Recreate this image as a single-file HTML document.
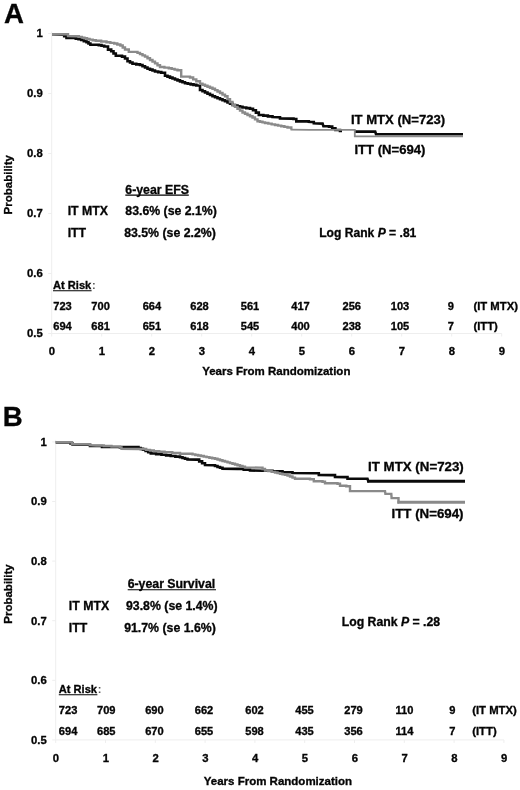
<!DOCTYPE html>
<html><head><meta charset="utf-8"><title>Figure</title>
<style>
html,body{margin:0;padding:0;background:#fff;}
svg{display:block;filter:blur(0.4px);font-family:"Liberation Sans",Arial,sans-serif;font-weight:bold;fill:#050505;}
text{stroke:#050505;stroke-width:0.32px;}
.t{font-size:11.3px;}
.l{font-size:11.5px;}
.m{font-size:12.3px;}
.c{font-size:13.1px;}
.cb{font-size:13.3px;}
.r{font-size:11.1px;}
.p{font-size:27.6px;}
.g{font-size:12.1px;}
.kb{fill:none;stroke:#0a0a0a;stroke-width:2.6;stroke-linejoin:miter;}
.kg{fill:none;stroke:#8a8a8a;stroke-width:2.4;stroke-linejoin:miter;}
</style></head><body>
<svg width="520" height="790" viewBox="0 0 520 790">
<rect width="520" height="790" fill="#fff"/>
<path d="M51.7,31.5 V333.5 H501.7" fill="none" stroke="#eeeeee" stroke-width="1"/>
<path d="M48.2,33.5H51.7M48.2,93.5H51.7M48.2,153.5H51.7M48.2,213.5H51.7M48.2,273.5H51.7M48.2,333.5H51.7M51.7,333.5v3M101.7,333.5v3M151.7,333.5v3M201.7,333.5v3M251.7,333.5v3M301.7,333.5v3M351.7,333.5v3M401.7,333.5v3M451.7,333.5v3M501.7,333.5v3" fill="none" stroke="#eeeeee" stroke-width="1"/>
<text x="42.7" y="37.4" text-anchor="end" class="t">1</text>
<text x="42.7" y="97.4" text-anchor="end" class="t">0.9</text>
<text x="42.7" y="157.4" text-anchor="end" class="t">0.8</text>
<text x="42.7" y="217.4" text-anchor="end" class="t">0.7</text>
<text x="42.7" y="277.4" text-anchor="end" class="t">0.6</text>
<text x="42.7" y="337.4" text-anchor="end" class="t">0.5</text>
<text x="51.9" y="355.4" text-anchor="middle" class="t">0</text>
<text x="101.9" y="355.4" text-anchor="middle" class="t">1</text>
<text x="151.9" y="355.4" text-anchor="middle" class="t">2</text>
<text x="201.9" y="355.4" text-anchor="middle" class="t">3</text>
<text x="251.9" y="355.4" text-anchor="middle" class="t">4</text>
<text x="301.9" y="355.4" text-anchor="middle" class="t">5</text>
<text x="351.9" y="355.4" text-anchor="middle" class="t">6</text>
<text x="401.9" y="355.4" text-anchor="middle" class="t">7</text>
<text x="451.9" y="355.4" text-anchor="middle" class="t">8</text>
<text x="501.9" y="355.4" text-anchor="middle" class="t">9</text>
<text transform="translate(11.6,184.7) rotate(-90)" text-anchor="middle" class="l">Probability</text>
<text x="276.3" y="374.7" text-anchor="middle" class="l">Years From Randomization</text>
<polyline points="52.00,34.30 61.90,34.60 64.20,34.60 64.20,36.30 66.50,36.30 66.50,38.00 75.80,38.00 75.80,38.60 78.50,38.60 78.50,39.30 81.20,39.30 81.20,40.00 83.85,40.00 83.85,41.10 86.50,41.10 86.50,42.20 88.45,42.20 88.45,43.45 90.40,43.45 90.40,44.70 98.80,44.70 98.80,45.10 101.50,45.10 101.50,45.80 104.20,45.80 104.20,46.50 108.00,46.50 108.00,49.60 111.20,49.60 111.20,51.20 113.50,51.20 113.50,53.50 115.80,53.50 115.80,55.80 122.00,55.80 122.00,56.60 125.00,56.60 125.00,58.50 127.50,58.50 127.50,61.20 130.00,61.20 130.00,62.45 132.50,62.45 132.50,63.70 136.25,63.70 136.25,64.35 140.00,64.35 140.00,65.00 142.50,65.00 142.50,66.23 145.00,66.23 145.00,67.47 147.50,67.47 147.50,68.70 150.00,68.70 150.00,69.63 152.50,69.63 152.50,70.57 155.00,70.57 155.00,71.50 158.15,71.50 158.15,72.15 161.30,72.15 161.30,72.80 165.00,72.80 165.00,75.70 167.50,75.70 167.50,76.65 170.00,76.65 170.00,77.60 172.50,77.60 172.50,78.55 175.00,78.55 175.00,79.50 177.50,79.50 177.50,80.42 180.00,80.42 180.00,81.35 182.50,81.35 182.50,82.28 185.00,82.28 185.00,83.20 187.82,83.20 187.82,83.78 190.65,83.78 190.65,84.35 193.48,84.35 193.48,84.92 196.30,84.92 196.30,85.50 200.00,85.50 200.00,90.00 202.50,90.00 202.50,91.24 205.00,91.24 205.00,92.48 207.50,92.48 207.50,93.72 210.00,93.72 210.00,94.96 212.50,94.96 212.50,96.20 215.00,96.20 215.00,97.20 217.50,97.20 217.50,98.20 220.00,98.20 220.00,99.20 222.50,99.20 222.50,100.20 225.00,100.20 225.00,101.20 227.50,101.20 227.50,102.47 230.00,102.47 230.00,103.73 232.50,103.73 232.50,105.00 235.00,105.00 235.00,105.62 237.50,105.62 237.50,106.25 240.00,106.25 240.00,106.88 242.50,106.88 242.50,107.50 246.25,107.50 246.25,108.15 250.00,108.15 250.00,108.80 253.00,108.80 253.00,110.20 255.90,110.20 255.90,112.60 258.80,112.60 258.80,115.00 263.37,115.00 263.37,115.67 267.93,115.67 267.93,116.33 272.50,116.33 272.50,117.00 278.00,117.20 280.00,117.20 280.00,118.40 291.50,118.60 293.50,118.60 293.50,119.00 296.30,119.00 296.30,121.40 308.80,121.40 308.80,121.80 311.00,122.00 313.80,122.00 313.80,123.30 322.60,123.60 323.40,126.20 329.00,126.20 329.00,126.60 332.20,126.60 332.20,128.30 335.40,128.30 335.40,130.00 340.00,130.00 340.00,131.00 342.00,131.00" class="kb"/>
<polyline points="354.20,131.60 375.20,131.60 376.00,134.20 463.00,134.20" class="kb"/>
<polyline points="52.00,34.20 64.20,34.20 68.00,34.20 68.00,36.00 75.80,36.20 78.85,36.20 78.85,36.90 81.90,36.90 81.90,37.60 84.47,37.60 84.47,38.27 87.03,38.27 87.03,38.93 89.60,38.93 89.60,39.60 92.70,39.60 92.70,40.20 95.80,40.20 95.80,40.80 101.15,40.80 101.15,41.50 106.50,41.50 106.50,42.20 110.35,42.20 110.35,42.85 114.20,42.85 114.20,43.50 117.30,43.50 117.30,44.50 120.40,44.50 120.40,45.50 122.70,45.50 122.70,47.50 125.00,47.50 125.00,49.50 128.80,49.50 128.80,51.90 137.50,51.90 137.50,52.90 140.00,52.90 140.00,54.13 142.50,54.13 142.50,55.37 145.00,55.37 145.00,56.60 147.50,56.60 147.50,58.27 150.00,58.27 150.00,59.93 152.50,59.93 152.50,61.60 155.00,61.60 155.00,63.40 157.50,63.40 157.50,65.20 160.00,65.20 160.00,67.00 164.40,67.00 164.40,67.60 168.80,67.60 168.80,68.20 171.70,68.20 171.70,68.90 174.60,68.90 174.60,69.60 177.50,69.60 177.50,70.30 181.20,70.30 181.20,76.60 190.00,76.60 190.00,77.50 193.15,77.50 193.15,79.40 196.30,79.40 196.30,81.30 200.00,81.30 200.00,83.70 202.50,83.70 202.50,84.70 205.00,84.70 205.00,85.70 207.50,85.70 207.50,86.70 210.00,86.70 210.00,87.70 212.50,87.70 212.50,88.70 215.00,88.70 215.00,90.13 217.50,90.13 217.50,91.57 220.00,91.57 220.00,93.00 222.50,93.00 222.50,94.60 225.00,94.60 225.00,96.20 227.50,96.20 227.50,99.13 230.00,99.13 230.00,102.07 232.50,102.07 232.50,105.00 235.00,105.00 235.00,106.88 237.50,106.88 237.50,108.75 240.00,108.75 240.00,110.62 242.50,110.62 242.50,112.50 245.00,112.50 245.00,113.75 247.50,113.75 247.50,115.00 250.00,115.00 250.00,116.25 252.50,116.25 252.50,117.50 255.00,117.50 255.00,119.35 257.50,119.35 257.50,121.20 260.00,121.20 260.00,121.80 262.50,121.80 262.50,122.40 265.00,122.40 265.00,123.00 268.33,123.00 268.33,123.67 271.67,123.67 271.67,124.33 275.00,124.33 275.00,125.00 278.12,125.00 278.12,125.62 281.25,125.62 281.25,126.25 284.38,126.25 284.38,126.88 287.50,126.88 287.50,127.50 291.30,127.50 291.30,129.60" class="kg"/>
<polyline points="290.50,129.70 310.00,129.90 354.80,129.90 354.80,130.40 354.80,136.30 463.00,136.30" class="kg" style="stroke-width:1.8"/>
<text x="350.9" y="124.3" class="c">IT MTX (N=723)</text>
<text x="354.4" y="153.9" class="c">ITT (N=694)</text>
<text x="125.3" y="193.5" class="m">6-year EFS</text>
<path d="M125.3,195.1h63.5" stroke="#000" stroke-width="1.1" fill="none"/>
<text x="67.7" y="215" class="m">IT MTX</text>
<text x="125.3" y="215" class="m">83.6% (se 2.1%)</text>
<text x="67.7" y="236.8" class="m">ITT</text>
<text x="124.2" y="236.8" class="m">83.5% (se 2.2%)</text>
<text x="319.2" y="237.2" class="g">Log Rank <tspan font-style="italic">P</tspan> = .81</text>
<text x="53" y="288.8" class="r">At Risk<tspan dx="0.7" style="fill:#555;stroke:none">:</tspan></text>
<path d="M53,290.7h38.6" stroke="#000" stroke-width="1.1" fill="none"/>
<text x="62.5" y="309.9" text-anchor="middle" class="r">723</text>
<text x="62.5" y="330" text-anchor="middle" class="r">694</text>
<text x="100.6" y="309.9" text-anchor="middle" class="r">700</text>
<text x="100.6" y="330" text-anchor="middle" class="r">681</text>
<text x="151.9" y="309.9" text-anchor="middle" class="r">664</text>
<text x="151.9" y="330" text-anchor="middle" class="r">651</text>
<text x="199.5" y="309.9" text-anchor="middle" class="r">628</text>
<text x="199.5" y="330" text-anchor="middle" class="r">618</text>
<text x="250" y="309.9" text-anchor="middle" class="r">561</text>
<text x="250" y="330" text-anchor="middle" class="r">545</text>
<text x="300.5" y="309.9" text-anchor="middle" class="r">417</text>
<text x="300.5" y="330" text-anchor="middle" class="r">400</text>
<text x="351.75" y="309.9" text-anchor="middle" class="r">256</text>
<text x="351.75" y="330" text-anchor="middle" class="r">238</text>
<text x="400" y="309.9" text-anchor="middle" class="r">103</text>
<text x="400" y="330" text-anchor="middle" class="r">105</text>
<text x="450.9" y="309.9" text-anchor="middle" class="r">9</text>
<text x="450.9" y="330" text-anchor="middle" class="r">7</text>
<text x="473.4" y="309.9" class="r" style="font-size:11.3px">(IT MTX)</text>
<text x="473.4" y="330" class="r" style="font-size:11.3px">(ITT)</text>
<text x="3.9" y="23.3" class="p">A</text>
<path d="M55.7,439.9 V739.9 H503.9" fill="none" stroke="#eeeeee" stroke-width="1"/>
<path d="M52.2,441.9H55.7M52.2,501.5H55.7M52.2,561.1H55.7M52.2,620.7H55.7M52.2,680.3H55.7M52.2,739.9H55.7M55.7,739.9v3M105.5,739.9v3M155.3,739.9v3M205.1,739.9v3M254.9,739.9v3M304.7,739.9v3M354.5,739.9v3M404.3,739.9v3M454.1,739.9v3M503.9,739.9v3" fill="none" stroke="#eeeeee" stroke-width="1"/>
<text x="46.8" y="445.8" text-anchor="end" class="t">1</text>
<text x="46.8" y="505.4" text-anchor="end" class="t">0.9</text>
<text x="46.8" y="565.0" text-anchor="end" class="t">0.8</text>
<text x="46.8" y="624.6" text-anchor="end" class="t">0.7</text>
<text x="46.8" y="684.2" text-anchor="end" class="t">0.6</text>
<text x="46.8" y="743.8" text-anchor="end" class="t">0.5</text>
<text x="56.0" y="761.6" text-anchor="middle" class="t">0</text>
<text x="105.8" y="761.6" text-anchor="middle" class="t">1</text>
<text x="155.6" y="761.6" text-anchor="middle" class="t">2</text>
<text x="205.4" y="761.6" text-anchor="middle" class="t">3</text>
<text x="255.2" y="761.6" text-anchor="middle" class="t">4</text>
<text x="305.0" y="761.6" text-anchor="middle" class="t">5</text>
<text x="354.8" y="761.6" text-anchor="middle" class="t">6</text>
<text x="404.6" y="761.6" text-anchor="middle" class="t">7</text>
<text x="454.4" y="761.6" text-anchor="middle" class="t">8</text>
<text x="504.2" y="761.6" text-anchor="middle" class="t">9</text>
<text transform="translate(11.6,594) rotate(-90)" text-anchor="middle" class="l">Probability</text>
<text x="277.9" y="784.5" text-anchor="middle" class="l">Years From Randomization</text>
<polyline points="55.70,442.40 68.50,442.40 70.50,442.40 70.50,443.50 72.50,443.50 72.50,444.60 80.00,444.80 90.00,444.80 90.00,445.90 96.00,446.00 102.00,446.00 102.00,447.00 120.00,447.00 120.00,447.50 121.50,447.50 121.50,447.10 136.20,447.10 138.47,447.10 138.47,448.00 140.73,448.00 140.73,448.90 143.00,448.90 143.00,449.80 145.60,449.80 145.60,451.00 148.20,451.00 148.20,452.20 150.80,452.20 150.80,453.40 156.15,453.40 156.15,454.10 161.50,454.10 161.50,454.80 166.12,454.80 166.12,455.40 170.75,455.40 170.75,456.00 175.38,456.00 175.38,456.60 180.00,456.60 180.00,457.20 182.50,457.20 182.50,457.97 185.00,457.97 185.00,458.73 187.50,458.73 187.50,459.50 196.30,459.60 199.20,459.60 199.20,461.40 202.10,461.40 202.10,463.20 205.00,463.20 205.00,465.00 212.50,465.20 215.00,465.20 215.00,466.07 217.50,466.07 217.50,466.95 220.00,466.95 220.00,467.82 222.50,467.82 222.50,468.70 237.50,468.90 243.75,468.90 243.75,469.65 250.00,469.65 250.00,470.40 262.50,470.70 272.50,470.70 272.50,471.40 282.50,471.40 282.50,472.20 292.50,472.20 292.50,473.00 315.00,473.30 318.80,473.30 318.80,475.00 332.50,475.10 335.00,475.10 335.00,477.00 345.00,477.10 347.50,477.10 347.50,478.70 367.50,478.80 368.30,481.30 369.00,481.30" class="kb"/>
<polyline points="367.20,481.30 465.00,481.30" class="kb" style="stroke-width:3.1"/>
<polyline points="55.70,442.30 68.50,442.30 72.00,442.30 72.00,444.00 80.80,444.20 90.00,444.20 90.00,445.20 96.20,445.50 103.85,445.50 103.85,446.05 111.50,446.05 111.50,446.60 120.00,446.60 120.00,447.40 121.50,447.40 121.50,448.90 138.50,449.00 146.20,449.00 146.20,449.90 150.00,449.90 150.00,450.55 153.80,450.55 153.80,451.20 159.20,451.20 159.20,451.75 164.60,451.75 164.60,452.30 172.30,452.30 172.30,453.00 180.00,453.00 180.00,453.70 192.50,453.70 192.50,454.40 195.31,454.40 195.31,454.95 198.12,454.95 198.12,455.50 200.94,455.50 200.94,456.05 203.75,456.05 203.75,456.60 206.56,456.60 206.56,457.15 209.38,457.15 209.38,457.70 212.19,457.70 212.19,458.25 215.00,458.25 215.00,458.80 217.50,458.80 217.50,459.51 220.00,459.51 220.00,460.23 222.50,460.23 222.50,460.94 225.00,460.94 225.00,461.66 227.50,461.66 227.50,462.37 230.00,462.37 230.00,463.09 232.50,463.09 232.50,463.80 235.00,463.80 235.00,464.54 237.50,464.54 237.50,465.28 240.00,465.28 240.00,466.02 242.50,466.02 242.50,466.76 245.00,466.76 245.00,467.50 260.00,467.60 262.50,467.60 262.50,469.05 265.00,469.05 265.00,470.50 268.33,470.50 268.33,471.17 271.67,471.17 271.67,471.83 275.00,471.83 275.00,472.50 277.50,472.50 277.50,473.10 280.00,473.10 280.00,473.70 282.50,473.70 282.50,474.30 285.00,474.30 285.00,474.90 287.50,474.90 287.50,475.50 290.00,475.50 290.00,476.57 292.50,476.57 292.50,477.63 295.00,477.63 295.00,478.70 310.00,478.70 310.00,479.20 313.80,479.20 313.80,481.20 322.50,481.20 322.50,481.70 325.00,481.70 325.00,483.20 337.50,483.20 337.50,483.70 340.00,483.70 340.00,485.70 346.30,485.70 346.30,486.20 350.00,486.20 350.00,491.00 385.00,491.10 385.40,493.80 391.30,493.90 391.60,498.00 397.50,498.10 398.50,498.10 398.50,502.20 399.00,502.20" class="kg"/>
<polyline points="397.40,502.20 465.00,502.20" class="kg" style="stroke-width:2.9"/>
<text x="368.1" y="471.4" class="cb">IT MTX (N=723)</text>
<text x="391.5" y="517.6" class="cb">ITT (N=694)</text>
<text x="127.7" y="588" class="m">6-year Survival</text>
<path d="M127.7,589.7h88.3" stroke="#000" stroke-width="1.1" fill="none"/>
<text x="68.8" y="610.4" class="m">IT MTX</text>
<text x="126" y="610.4" class="m">93.8% (se 1.4%)</text>
<text x="68.8" y="632.3" class="m">ITT</text>
<text x="124.2" y="632.3" class="m">91.7% (se 1.6%)</text>
<text x="341.7" y="626.3" class="g" style="font-size:12.25px">Log Rank <tspan font-style="italic">P</tspan> = .28</text>
<text x="58.8" y="693" class="r">At Risk<tspan dx="0.7" style="fill:#555;stroke:none">:</tspan></text>
<path d="M58.8,694.7h38.6" stroke="#000" stroke-width="1.1" fill="none"/>
<text x="68.1" y="714.3" text-anchor="middle" class="r">723</text>
<text x="68.1" y="735" text-anchor="middle" class="r">694</text>
<text x="106.25" y="714.3" text-anchor="middle" class="r">709</text>
<text x="106.25" y="735" text-anchor="middle" class="r">685</text>
<text x="154.4" y="714.3" text-anchor="middle" class="r">690</text>
<text x="154.4" y="735" text-anchor="middle" class="r">670</text>
<text x="204" y="714.3" text-anchor="middle" class="r">662</text>
<text x="204" y="735" text-anchor="middle" class="r">655</text>
<text x="254.5" y="714.3" text-anchor="middle" class="r">602</text>
<text x="254.5" y="735" text-anchor="middle" class="r">598</text>
<text x="304.5" y="714.3" text-anchor="middle" class="r">455</text>
<text x="304.5" y="735" text-anchor="middle" class="r">435</text>
<text x="353.5" y="714.3" text-anchor="middle" class="r">279</text>
<text x="353.5" y="735" text-anchor="middle" class="r">356</text>
<text x="404.4" y="714.3" text-anchor="middle" class="r">110</text>
<text x="404.4" y="735" text-anchor="middle" class="r">114</text>
<text x="452.4" y="714.3" text-anchor="middle" class="r">9</text>
<text x="452.4" y="735" text-anchor="middle" class="r">7</text>
<text x="472.2" y="714.3" class="r" style="font-size:11.3px">(IT MTX)</text>
<text x="472.2" y="735" class="r" style="font-size:11.3px">(ITT)</text>
<text x="2.7" y="426.3" class="p">B</text>
</svg>
</body></html>
